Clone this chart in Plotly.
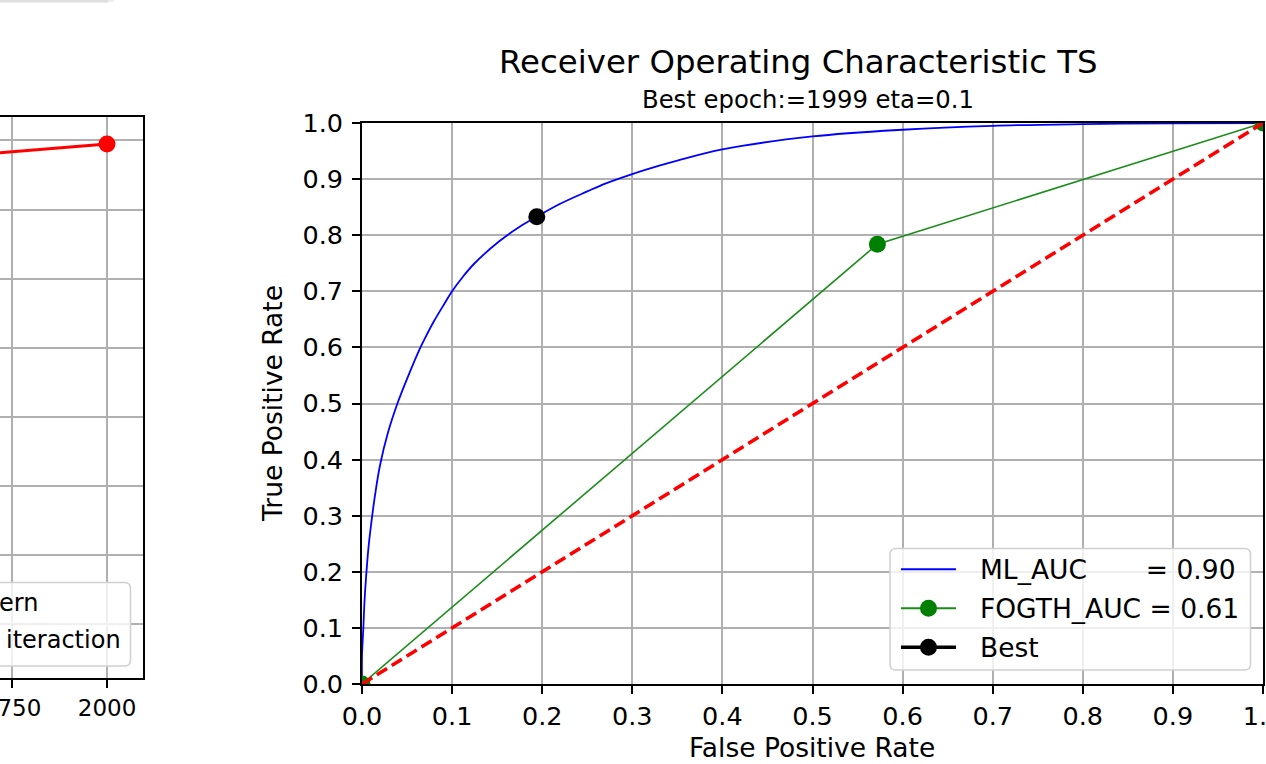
import plotly.graph_objects as go

W, H = 1266, 764

# ---------------- data ----------------
# left (partially visible) error chart
err_epochs = [1500, 2000]
err_values = [7.72, 7.95]
err_xticks = [1500, 1750, 2000]

# ROC curves
ml_fpr = [0.0, 0.0, 0.0015, 0.0028, 0.0045, 0.007, 0.010, 0.0145, 0.020, 0.029, 0.040,
          0.051, 0.064, 0.072, 0.080, 0.090, 0.100, 0.112, 0.125, 0.153, 0.175, 0.194, 0.22,
          0.25, 0.27, 0.30, 0.33, 0.35, 0.40, 0.50, 0.60, 0.70, 0.80, 0.90, 1.0]
ml_tpr = [0.0, 0.05, 0.10, 0.148, 0.19, 0.24, 0.283, 0.337, 0.39, 0.449, 0.503,
          0.548, 0.597, 0.623, 0.647, 0.674, 0.70, 0.726, 0.75, 0.79, 0.815, 0.833, 0.856,
          0.878, 0.892, 0.909, 0.924, 0.933, 0.953, 0.976, 0.988, 0.995, 0.998, 0.9995, 1.0]
fog_fpr = [0.0, 0.572, 1.0]
fog_tpr = [0.0, 0.784, 1.0]
best_fpr = [0.194]
best_tpr = [0.833]
diag = [0.0, 1.0]
ml_auc = 0.90
fog_auc = 0.61
ticks01 = [0.0, 0.1, 0.2, 0.3, 0.4, 0.5, 0.6, 0.7, 0.8, 0.9, 1.0]

FONT = "DejaVu Sans"


def px(x):
    return x / W


def py(y):
    return 1 - y / H


fig = go.Figure()

# left chart
fig.add_trace(go.Scatter(x=err_epochs, y=err_values, mode="lines+markers",
                         line=dict(color="#ff0000", width=3),
                         marker=dict(color="#ff0000", size=17),
                         xaxis="x", yaxis="y", showlegend=False, hoverinfo="skip"))

# ROC chart
fig.add_trace(go.Scatter(x=ml_fpr, y=ml_tpr, mode="lines",
                         line=dict(color="#0000ff", width=1.8, shape="spline", smoothing=1.0),
                         xaxis="x2", yaxis="y2", showlegend=False))
fig.add_trace(go.Scatter(x=fog_fpr, y=fog_tpr, mode="lines+markers",
                         line=dict(color="#1a8c1a", width=1.6),
                         marker=dict(color="#008000", size=17),
                         xaxis="x2", yaxis="y2", showlegend=False))
fig.add_trace(go.Scatter(x=best_fpr, y=best_tpr, mode="lines+markers",
                         line=dict(color="#000000", width=3.5),
                         marker=dict(color="#000000", size=17),
                         xaxis="x2", yaxis="y2", showlegend=False))
fig.add_trace(go.Scatter(x=diag, y=diag, mode="lines",
                         line=dict(color="#ff0000", width=3.6, dash="12px,5.5px"),
                         xaxis="x2", yaxis="y2", showlegend=False))

grid = "#b0b0b0"
axcommon = dict(showgrid=True, gridcolor=grid, gridwidth=1.8, zeroline=False,
                showline=True, linecolor="#000000", linewidth=1.8,
                ticks="outside", ticklen=8, tickwidth=1.8, tickcolor="#000000",
                ticklabeloverflow="allow", automargin=False)

fig.update_layout(
    width=W, height=H, autosize=False,
    margin=dict(l=0, r=0, t=0, b=0),
    paper_bgcolor="white", plot_bgcolor="white",
    font=dict(family=FONT, color="#000000"),
    xaxis=dict(domain=[0, px(143)], range=[1718.4, 2094.7], anchor="y",
               tickvals=err_xticks, ticktext=[str(v) for v in err_xticks],
               mirror=True, tickfont=dict(size=23, family=FONT), **axcommon),
    yaxis=dict(domain=[py(678), py(117)], range=[0.224, 8.339], dtick=1, anchor="x",
               side="right", showgrid=True, gridcolor=grid, gridwidth=1.8, zeroline=False,
               showline=True, linecolor="#000000", linewidth=1.8, mirror=False,
               showticklabels=False, ticks=""),
    xaxis2=dict(domain=[px(362), px(1263)], range=[0, 1], anchor="y2",
                tickvals=ticks01, tickformat=".1f", mirror=True,
                tickfont=dict(size=25.5, family=FONT), **axcommon),
    yaxis2=dict(domain=[py(684), py(123)], range=[0, 1], anchor="x2",
                tickvals=ticks01, tickformat=".1f", mirror=True, ticklabelstandoff=4,
                tickfont=dict(size=25.5, family=FONT), **axcommon),
)


def rrect(x0, y0, x1, y1, r):
    # rounded rectangle path in paper coords from pixel values
    rx, ry = r / W, r / H
    X0, X1 = px(x0), px(x1)
    Y0, Y1 = py(y1), py(y0)  # Y0 bottom, Y1 top
    return (f"M {X0+rx},{Y1} L {X1-rx},{Y1} Q {X1},{Y1} {X1},{Y1-ry} "
            f"L {X1},{Y0+ry} Q {X1},{Y0} {X1-rx},{Y0} L {X0+rx},{Y0} "
            f"Q {X0},{Y0} {X0},{Y0+ry} L {X0},{Y1-ry} Q {X0},{Y1} {X0+rx},{Y1} Z")


shapes = []
# top-left faint shadow from element above
shapes.append(dict(type="rect", xref="paper", yref="paper", x0=0, x1=px(108), y0=py(2.5), y1=1,
                   fillcolor="#dedede", line=dict(width=0), layer="above"))
shapes.append(dict(type="rect", xref="paper", yref="paper", x0=px(108), x1=px(114), y0=py(2), y1=1,
                   fillcolor="#eeeeee", line=dict(width=0), layer="above"))

# left legend box
shapes.append(dict(type="path", xref="paper", yref="paper", path=rrect(-30, 582.5, 130.5, 666, 6),
                   fillcolor="rgba(255,255,255,0.8)", line=dict(color="#d0d0d0", width=1.5),
                   layer="above"))

# right legend box
shapes.append(dict(type="path", xref="paper", yref="paper", path=rrect(890, 548.5, 1250.5, 670, 6),
                   fillcolor="rgba(255,255,255,0.8)", line=dict(color="#d0d0d0", width=1.5),
                   layer="above"))
leg_rows = [569.3, 608.3, 647.3]
leg_cols = [("#0000ff", 2.0, None), ("#1a8c1a", 2.0, "#008000"), ("#000000", 3.5, "#000000")]
for yy, (c, w, mc) in zip(leg_rows, leg_cols):
    shapes.append(dict(type="line", xref="paper", yref="paper", x0=px(901), x1=px(956),
                       y0=py(yy), y1=py(yy), line=dict(color=c, width=w), layer="above"))
    if mc:
        r = 8.5
        shapes.append(dict(type="circle", xref="paper", yref="paper",
                           x0=px(928.5 - r), x1=px(928.5 + r), y0=py(yy + r), y1=py(yy - r),
                           fillcolor=mc, line=dict(color=mc, width=0), layer="above"))

fig.update_layout(shapes=shapes)

ann = []


def text(t, x, y, size, xanchor="center", angle=0):
    ann.append(dict(text=t, x=px(x), y=py(y), xref="paper", yref="paper", showarrow=False,
                    xanchor=xanchor, yanchor="middle", textangle=angle,
                    font=dict(family=FONT, size=size, color="#000000")))


text("Receiver Operating Characteristic TS", 798, 62, 32.4)
text("Best epoch:=1999 eta=0.1", 808, 100, 24.3)
text("False Positive Rate", 812, 747, 26.5)
text("True Positive Rate", 273, 404, 26.5, angle=-90)
nb = "\u00a0"
text(f"ML_AUC{nb*7}= {ml_auc:0.2f}", 978, leg_rows[0], 26.5, xanchor="left")
text(f"FOGTH_AUC = {fog_auc:0.2f}", 978, leg_rows[1], 26.5, xanchor="left")
text("Best", 978, leg_rows[2], 26.5, xanchor="left")
text("ern", -3, 603, 24, xanchor="left")
text("iteraction", 4, 640, 24, xanchor="left")
fig.update_layout(annotations=ann)

fig.write_html("out.html", config={"displayModeBar": False},
               post_script="document.body.style.margin='0';document.body.style.overflow='hidden';")
